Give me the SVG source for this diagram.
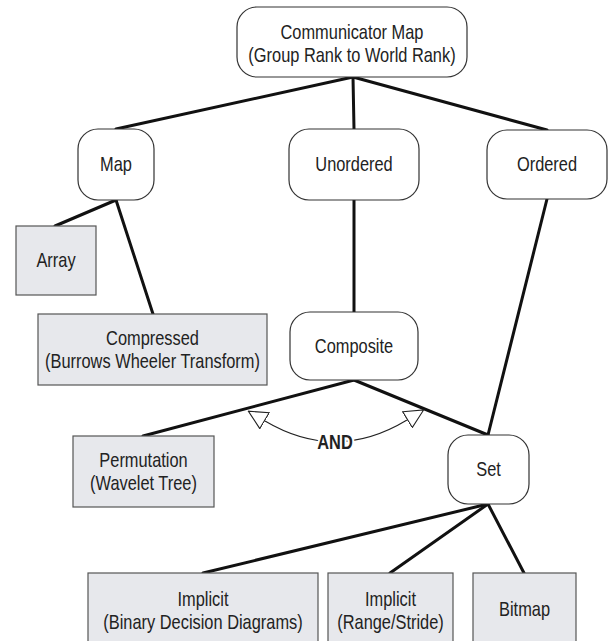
<svg xmlns="http://www.w3.org/2000/svg" width="613" height="641" viewBox="0 0 613 641">
  <defs>
    <style>
      .round { fill: #ffffff; stroke: #333333; stroke-width: 1.2; }
      .leaf { fill: #e7e8ec; stroke: #555555; stroke-width: 1.2; }
      /* narrow sans look: regular sans squeezed horizontally by the transform on each label */
      .label { font-family: "Liberation Sans", Arial, sans-serif; font-size: 20px; fill: #222222; text-anchor: middle; }
      .edge { stroke: #111111; stroke-width: 3; fill: none; stroke-linecap: round; }
      .rel { stroke: #222222; stroke-width: 1.1; fill: none; }
      .and { font-weight: bold; stroke: #ffffff; stroke-width: 5; paint-order: stroke; stroke-linejoin: round; }
    </style>
    <marker id="hollow" viewBox="0 0 20 20" refX="0" refY="10" markerWidth="20" markerHeight="20" markerUnits="userSpaceOnUse" orient="auto-start-reverse">
      <path d="M0.6,0.8 L19.4,10 L0.6,19.2 Z" fill="#ffffff" stroke="#222222" stroke-width="1.1"/>
    </marker>
  </defs>

  <!-- tree edges -->
  <g id="connectors">
    <line class="edge" x1="353" y1="77" x2="116" y2="129"/>
    <line class="edge" x1="353" y1="77" x2="354" y2="129"/>
    <line class="edge" x1="353" y1="77" x2="547" y2="130"/>
    <line class="edge" x1="116" y1="200" x2="55" y2="226"/>
    <line class="edge" x1="116" y1="200" x2="153" y2="314"/>
    <line class="edge" x1="354" y1="200" x2="354" y2="312"/>
    <line class="edge" x1="354" y1="380" x2="143" y2="436"/>
    <line class="edge" x1="354" y1="380" x2="488" y2="435"/>
    <line class="edge" x1="547" y1="199" x2="488" y2="435"/>
    <line class="edge" x1="488" y1="504" x2="203" y2="573"/>
    <line class="edge" x1="488" y1="504" x2="390" y2="573"/>
    <line class="edge" x1="488" y1="504" x2="524" y2="573"/>
    <!-- AND relation between the two composite branches -->
    <path class="rel" d="M265,421 Q336,463 407,420" marker-start="url(#hollow)" marker-end="url(#hollow)"/>
    <text class="label and" transform="translate(335,449) scale(0.82,1)">AND</text>
  </g>

  <g id="communicator-map">
    <rect class="round" x="237" y="7" width="230" height="70" rx="20"/>
    <text class="label" transform="translate(352,39) scale(0.82,1)">Communicator Map</text>
    <text class="label" transform="translate(352,62) scale(0.82,1)">(Group Rank to World Rank)</text>
  </g>

  <g id="map">
    <rect class="round" x="78" y="129" width="76" height="71" rx="20"/>
    <text class="label" transform="translate(116,171) scale(0.82,1)">Map</text>
  </g>

  <g id="unordered">
    <rect class="round" x="289" y="129" width="130" height="71" rx="20"/>
    <text class="label" transform="translate(354,171) scale(0.82,1)">Unordered</text>
  </g>

  <g id="ordered">
    <rect class="round" x="487" y="130" width="120" height="69" rx="20"/>
    <text class="label" transform="translate(547,171) scale(0.82,1)">Ordered</text>
  </g>

  <g id="array">
    <rect class="leaf" x="16" y="226" width="80" height="69"/>
    <text class="label" transform="translate(56,267) scale(0.82,1)">Array</text>
  </g>

  <g id="compressed">
    <rect class="leaf" x="38" y="314" width="229" height="71"/>
    <text class="label" transform="translate(152.5,345) scale(0.82,1)">Compressed</text>
    <text class="label" transform="translate(152.5,368) scale(0.82,1)">(Burrows Wheeler Transform)</text>
  </g>

  <g id="composite">
    <rect class="round" x="290" y="312" width="128" height="68" rx="20"/>
    <text class="label" transform="translate(354,353) scale(0.82,1)">Composite</text>
  </g>

  <g id="permutation">
    <rect class="leaf" x="73" y="436" width="141" height="71"/>
    <text class="label" transform="translate(143.5,467) scale(0.82,1)">Permutation</text>
    <text class="label" transform="translate(143.5,490) scale(0.82,1)">(Wavelet Tree)</text>
  </g>

  <g id="set">
    <rect class="round" x="448" y="435" width="81" height="69" rx="20"/>
    <text class="label" transform="translate(488.5,476) scale(0.82,1)">Set</text>
  </g>

  <g id="implicit-bdd">
    <rect class="leaf" x="88" y="573" width="230" height="80"/>
    <text class="label" transform="translate(203,606) scale(0.82,1)">Implicit</text>
    <text class="label" transform="translate(203,629) scale(0.82,1)">(Binary Decision Diagrams)</text>
  </g>

  <g id="implicit-range">
    <rect class="leaf" x="328" y="573" width="125" height="80"/>
    <text class="label" transform="translate(390.5,606) scale(0.82,1)">Implicit</text>
    <text class="label" transform="translate(390.5,629) scale(0.82,1)">(Range/Stride)</text>
  </g>

  <g id="bitmap">
    <rect class="leaf" x="473" y="573" width="103" height="80"/>
    <text class="label" transform="translate(524.5,616) scale(0.82,1)">Bitmap</text>
  </g>
</svg>
